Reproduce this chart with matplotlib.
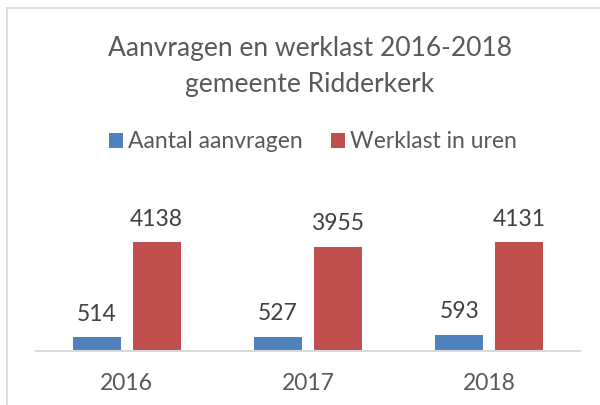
""" Aanvragen en werklast 2016-2018, gemeente Ridderkerk
"""

from matplotlib import pyplot as plt
from matplotlib.lines import Line2D
import numpy as np

years = ['2016', '2017', '2018']
aanvragen = [514, 527, 593]
werklast = [4138, 3955, 4131]

blue = '#4F81BD'
red = '#C0504D'
grey_text = '#595959'

plt.rcParams['font.family'] = ['Lato', 'DejaVu Sans']

fig = plt.figure(figsize=(6, 4.05), dpi=100)
ax = fig.add_axes([36 / 600, 1 - 350.7 / 405, 544 / 600, 131 / 405])

x = np.arange(len(years))
width = 0.265
offset = 0.1655
bars1 = ax.bar(x - offset, aanvragen, width, color=blue, label='Aantal aanvragen')
bars2 = ax.bar(x + offset, werklast, width, color=red, label='Werklast in uren')

# Labels boven de staven
for bars, values in [(bars1, aanvragen), (bars2, werklast)]:
    for b, v in zip(bars, values):
        ax.annotate(str(v), (b.get_x() + b.get_width() / 2, v),
                    xytext=(0, 12), textcoords='offset points',
                    ha='center', va='baseline', fontsize=16.5, color='#404040')

ax.set_xlim(-0.5, 2.5)
ax.set_ylim(0, 5000)
ax.set_xticks(x)
ax.set_xticklabels(years, fontsize=16.5, color=grey_text)
ax.tick_params(axis='x', length=0, pad=16)
ax.set_yticks([])
for side in ['top', 'right', 'left']:
    ax.spines[side].set_visible(False)
ax.spines['bottom'].set_color('#D9D9D9')
ax.spines['bottom'].set_linewidth(1.5)

# Titel
fig.text(310 / 600, 1 - 56 / 405, 'Aanvragen en werklast 2016-2018',
         ha='center', va='baseline', fontsize=19, color=grey_text)
fig.text(310 / 600, 1 - 91.7 / 405, 'gemeente Ridderkerk',
         ha='center', va='baseline', fontsize=19, color=grey_text)

# Legenda
fig.legend(handles=[bars1, bars2], loc='center', ncol=2,
           bbox_to_anchor=(313 / 600, 1 - 142 / 405), frameon=False,
           fontsize=16.5, labelcolor=grey_text, handlelength=0.61,
           handleheight=0.61, handletextpad=0.25, columnspacing=1.2,
           borderpad=0, borderaxespad=0)

# Kader van de grafiek
fig.add_artist(Line2D([6.5 / 600, 6.5 / 600], [0, 1 - 8 / 405],
                      transform=fig.transFigure, color='#D9D9D9', lw=1.2))
fig.add_artist(Line2D([6.5 / 600, 1], [1 - 8 / 405, 1 - 8 / 405],
                      transform=fig.transFigure, color='#D9D9D9', lw=1.2))

fig.savefig('out.png', dpi=100)
